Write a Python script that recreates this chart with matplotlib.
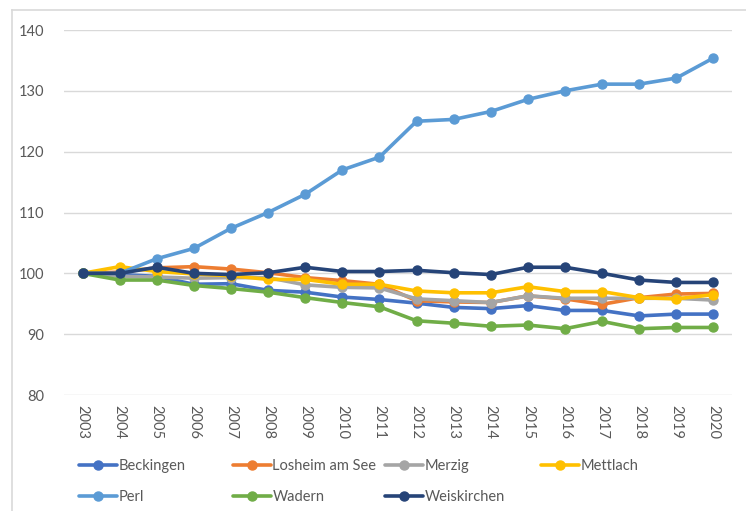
import matplotlib
matplotlib.use("Agg")
import matplotlib.pyplot as plt
from matplotlib.lines import Line2D

# Werte (Index 2003 = 100)
years = [str(y) for y in range(2003, 2021)]

beckingen = [100, 99.8, 99.5, 98.2, 98.3, 97.2, 96.9, 96.1, 95.7, 95.1, 94.4, 94.2, 94.7, 93.9, 93.9, 93.0, 93.3, 93.3]
losheim = [100, 100.2, 100.9, 101.1, 100.7, 100.1, 99.3, 98.8, 98.2, 95.5, 95.3, 95.2, 96.3, 95.8, 94.9, 96.0, 96.6, 96.7]
merzig = [100, 99.5, 99.4, 99.2, 99.3, 99.3, 98.1, 97.7, 97.6, 95.8, 95.5, 95.2, 96.3, 95.9, 95.9, 95.9, 95.9, 95.6]
mettlach = [100, 101.1, 100.3, 99.9, 99.6, 99.0, 99.0, 98.2, 98.2, 97.1, 96.8, 96.8, 97.8, 97.0, 97.0, 96.0, 95.8, 96.5]
perl = [100, 100, 102.4, 104.1, 107.4, 110.0, 113.0, 117.0, 119.1, 125.0, 125.3, 126.6, 128.6, 130.0, 131.1, 131.1, 132.1, 135.4]
wadern = [100, 98.9, 98.9, 98.0, 97.5, 96.9, 96.0, 95.2, 94.5, 92.2, 91.8, 91.3, 91.5, 90.9, 92.1, 90.9, 91.1, 91.1]
weiskirchen = [100, 100, 101.0, 100, 99.8, 100.1, 101.0, 100.3, 100.3, 100.5, 100.1, 99.8, 101.0, 101.0, 100.0, 98.9, 98.5, 98.5]

names = ["Beckingen", "Losheim am See", "Merzig", "Mettlach", "Perl", "Wadern", "Weiskirchen"]
series = [beckingen, losheim, merzig, mettlach, perl, wadern, weiskirchen]
colors = ["#4472C4", "#ED7D31", "#A5A5A5", "#FFC000", "#5B9BD5", "#70AD47", "#264478"]

plt.rcParams["font.family"] = ["Lato", "DejaVu Sans"]
txt_col = "#595959"

W, H = 746, 511
fig = plt.figure(figsize=(W / 100, H / 100), dpi=100)

# Rahmen des Diagrammbereichs (nur oben/links im Bild)
bx, by = 11.5 / W, 1 - 10.5 / H
fig.add_artist(Line2D([bx, bx], [0, by], transform=fig.transFigure,
                      color="#D9D9D9", linewidth=1.2))
fig.add_artist(Line2D([bx, 1], [by, by], transform=fig.transFigure,
                      color="#D9D9D9", linewidth=1.2))

ax = fig.add_axes([64 / W, 1 - 395 / H, (732 - 64) / W, (395 - 30) / H])

x = list(range(len(years)))
lines = []
for name, vals, c in zip(names, series, colors):
    ln, = ax.plot(x, vals, color=c, linewidth=2.6, marker="o", markersize=6.5,
                  label=name, solid_capstyle="round")
    lines.append(ln)

ax.set_xlim(-0.5, len(years) - 0.5)
ax.set_ylim(80, 140)
ax.set_yticks(range(80, 141, 10))
ax.set_xticks(x)
ax.set_xticklabels(years, rotation=-90)
ax.grid(axis="y", color="#D9D9D9", linewidth=1)
ax.set_axisbelow(True)
for s in ax.spines.values():
    s.set_visible(False)
ax.tick_params(length=0, labelsize=10.5, colors=txt_col)
ax.tick_params(axis="y", pad=14)
ax.tick_params(axis="x", pad=7)

# Legende wie in Excel: feste Spalten
col_x = [79, 233, 385, 541]
row_y = [466, 497]
for i, ln in enumerate(lines):
    r, cidx = divmod(i, 4)
    fig.legend(handles=[ln], labels=[ln.get_label()], loc="center left",
               bbox_to_anchor=(col_x[cidx] / W, 1 - row_y[r] / H),
               frameon=False, borderpad=0, borderaxespad=0,
               handlelength=2.6, handletextpad=0.1, fontsize=10.5,
               labelcolor=txt_col)

fig.savefig("out.png", dpi=100)
